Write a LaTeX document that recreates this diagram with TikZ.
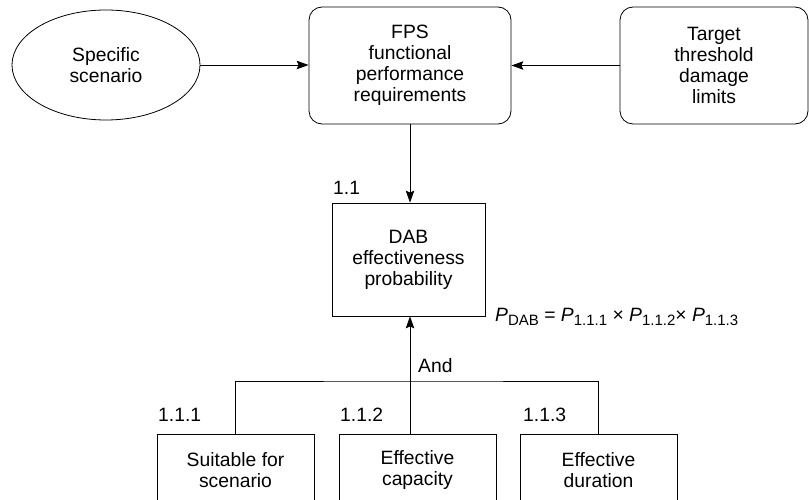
\documentclass[tikz,border=0pt]{standalone}
\usepackage{fontspec}
\setmainfont{Liberation Sans}
\usetikzlibrary{arrows.meta,shapes.geometric}
% lowered subscript sized to the label text
\newcommand{\lowsub}[1]{\raisebox{-4.5pt}{\fontsize{15}{15}\selectfont #1}}
\begin{document}
\begin{tikzpicture}[x=1pt,y=-1pt,
  every node/.style={font=\fontsize{19.3}{20.9}\selectfont, align=center, inner sep=0pt},
  frame/.style={draw, line width=0.8pt},
  roundbox/.style={frame, rounded corners=13pt},
  sqbox/.style={frame},
  oval/.style={frame, ellipse},
  link/.style={line width=0.8pt},
  arrow/.style={link, -{Stealth[length=12pt,width=8.5pt,inset=2pt]}},
  tag/.style={anchor=base west}]
\clip (0,0) rectangle (809,500);

% top row
\node[oval, minimum width=188pt, minimum height=110pt] (scen) at (106,65) {Specific\\scenario};
\node[roundbox, minimum width=202pt, minimum height=117pt] (fps) at (410,65.5)
  {FPS\\functional\\performance\\requirements};
\node[roundbox, minimum width=188pt, minimum height=117pt] (tgt) at (714,65.5)
  {Target\\threshold\\damage\\limits};

% goal box
\node[sqbox, minimum width=153pt, minimum height=113pt] (dab) at (408.5,259.5)
  {DAB\\effectiveness\\probability};
\node[tag] (l11) at (333,194) {1.1};
\node[tag] (formula) at (495,321)
  {\textit{P}\lowsub{DAB} = \textit{P}\lowsub{1.1.1} × \textit{P}\lowsub{1.1.2}× \textit{P}\lowsub{1.1.3}};

% sub-goals
\node[sqbox, minimum width=157pt, minimum height=72pt] (suit) at (235.5,470) {Suitable for\\scenario};
\node[sqbox, minimum width=157pt, minimum height=72pt] (cap) at (417.5,470) {Effective\\capacity};
\node[sqbox, minimum width=157pt, minimum height=72pt] (dur) at (598.5,470) {Effective\\duration};
\node[tag] (l111) at (158,421) {1.1.1};
\node[tag] (l112) at (340,421) {1.1.2};
\node[tag] (l113) at (523,421) {1.1.3};
\node[tag] (andlbl) at (418,372) {And};

% connectors
\coordinate (junc) at (410,381);
\draw[arrow] (scen.east) -- (fps.west |- scen.east);
\draw[arrow] (tgt.west) -- (fps.east |- tgt.west);
\draw[arrow] (fps.south) -- (dab.north -| fps.south);
\draw[arrow] (cap.north -| junc) -- (dab.south -| junc);
\draw[link] (suit.north) |- (junc) -| (dur.north);
\end{tikzpicture}
\end{document}
